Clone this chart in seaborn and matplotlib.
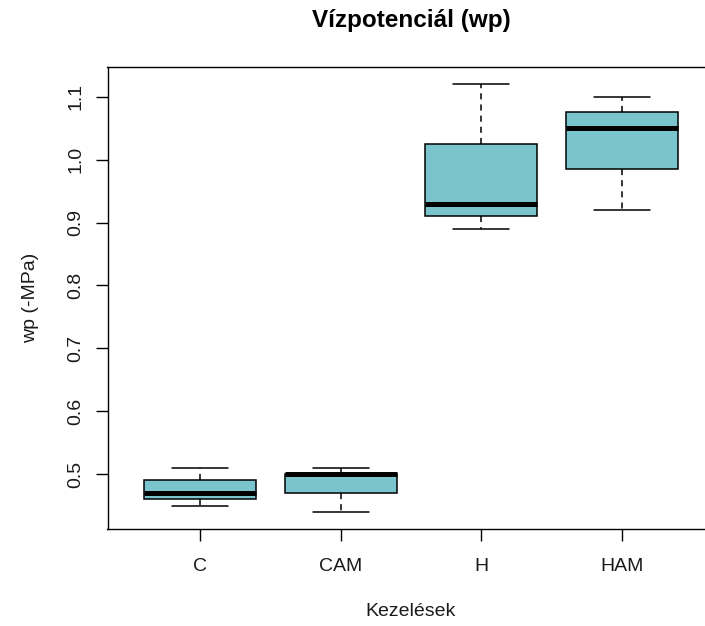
import matplotlib
matplotlib.use("Agg")
import matplotlib.pyplot as plt
import seaborn as sns
import pandas as pd
import numpy as np

# Water potential measurements per treatment (-MPa)
treatments = ["C", "CAM", "H", "HAM"]
wp_C = [0.45, 0.46, 0.47, 0.49, 0.51]
wp_CAM = [0.44, 0.47, 0.50, 0.50, 0.51]
wp_H = [0.89, 0.91, 0.93, 1.025, 1.12]
wp_HAM = [0.92, 0.985, 1.05, 1.075, 1.10]
y_ticks = [0.5, 0.6, 0.7, 0.8, 0.9, 1.0, 1.1]

df = pd.DataFrame({
    "Kezelés": np.repeat(treatments, 5),
    "wp": wp_C + wp_CAM + wp_H + wp_HAM,
})

sns.set_style("ticks")
plt.rcParams["font.family"] = ["Liberation Sans", "DejaVu Sans"]

fig = plt.figure(figsize=(7.05, 6.26), dpi=100)
ax = fig.add_axes([107.5 / 705, 97 / 626, 607 / 705, 462 / 626])

sns.boxplot(
    data=df, x="Kezelés", y="wp", order=treatments,
    color="#7AC5CD", saturation=1, width=0.8,
    linecolor="black", linewidth=1.1, showfliers=False,
    whiskerprops=dict(linestyle=(0, (4, 3.3))),
    medianprops=dict(linewidth=3.6, color="black"),
    ax=ax,
)

# R-style axis range: data range padded by 4 % on each side
lo, hi = df["wp"].min(), df["wp"].max()
pad = 0.04 * (hi - lo)
ax.set_ylim(lo - pad, hi + pad)
n = len(treatments)
xpad = 0.04 * n
ax.set_xlim(-0.5 - xpad, n - 0.5 + xpad)

ax.set_yticks(y_ticks)
ax.set_yticklabels([f"{v:.1f}" for v in y_ticks])

for s in ax.spines.values():
    s.set_visible(True)
    s.set_linewidth(1.0)
    s.set_color("black")

ax.tick_params(axis="both", length=8.6, width=1.0, color="black",
               labelsize=14, labelcolor="#1a1a1a")
ax.tick_params(axis="x", pad=12)
ax.tick_params(axis="y", pad=8, labelrotation=90)
for lab in ax.get_yticklabels():
    lab.set_va("center")

ax.set_xlabel("Kezelések", fontsize=14, color="#1a1a1a")
ax.xaxis.label.set_va("center")
ax.xaxis.set_label_coords(0.5, (529 - 612) / 462)
ax.set_ylabel("wp (-MPa)", fontsize=14, color="#1a1a1a")
ax.yaxis.label.set_va("center")
ax.yaxis.set_label_coords((31 - 107.5) / 607, 0.5)

ax.set_title("Vízpotenciál (wp)", fontsize=17.5, fontweight="bold",
             y=(529 - 20) / 462, va="center", pad=0, color="black")

fig.savefig("out.png", dpi=100, facecolor="white")
